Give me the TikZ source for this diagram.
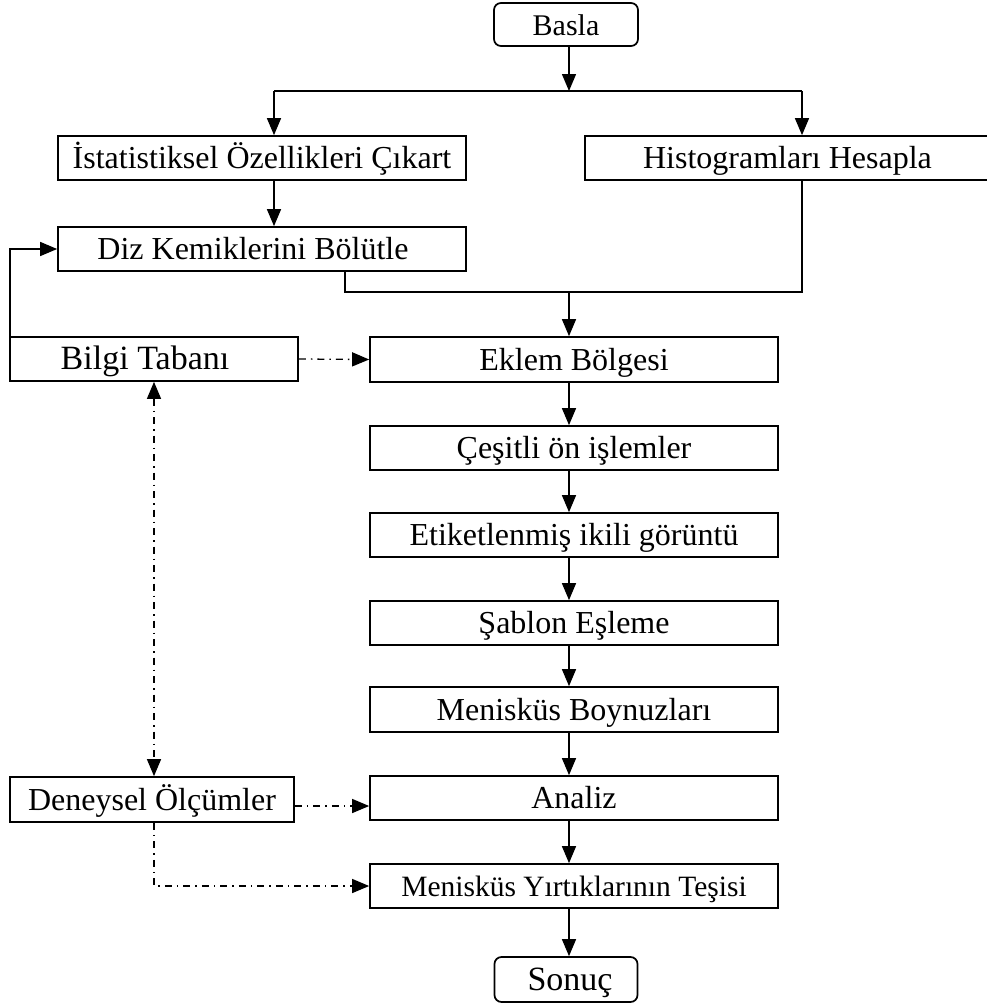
\documentclass[tikz,border=0pt]{standalone}
\usepackage{fontspec}
\setmainfont{Liberation Serif}
\usetikzlibrary{arrows.meta}
\begin{document}
\begin{tikzpicture}[x=1pt,y=-1pt,
  box/.style={draw, line width=1.7pt, minimum height=44, inner sep=0pt,
    text height=22pt, text depth=1pt, font=\fontsize{32}{36}\selectfont},
  term/.style={box, rounded corners=7pt},
  conn/.style={line width=1.4pt},
  tip/.tip={Triangle[length=17pt,width=14pt]},
  arr/.style={conn, -tip},
  dd/.style={line width=1.3pt, dash pattern=on 7pt off 5pt on 1.5pt off 5pt, -tip},
  ddb/.style={dd, tip-tip}
]
\useasboundingbox (0,0) rectangle (987,1004);

% nodes
\node[term, minimum width=144, minimum height=43, font=\fontsize{30}{34}\selectfont] (basla) at (566,24.5) {Basla};
\node[box, minimum width=408] (ist) at (262,158) {İstatistiksel Özellikleri Çıkart};
\node[box, minimum width=405] (hist) at (787.5,158) {Histogramları Hesapla};
\node[box, minimum width=408] (diz) at (262,249) {\hspace*{-18pt}Diz Kemiklerini Bölütle};
\node[box, minimum width=288, font=\fontsize{34}{38}\selectfont] (bilgi) at (154,359) {\hspace*{-18pt}Bilgi Tabanı};
\node[box, minimum width=408, minimum height=45] (eklem) at (574,359.5) {Eklem Bölgesi};
\node[box, minimum width=408] (cesit) at (574,448) {Çeşitli ön işlemler};
\node[box, minimum width=408] (etiket) at (574,535) {Etiketlenmiş ikili görüntü};
\node[box, minimum width=408] (sablon) at (574,623) {Şablon Eşleme};
\node[box, minimum width=408, minimum height=45] (menb) at (574,709.5) {Menisküs Boynuzları};
\node[box, minimum width=408] (analiz) at (574,798) {Analiz};
\node[box, minimum width=408, font=\fontsize{29.5}{34}\selectfont] (yirtik) at (574,886) {Menisküs Yırtıklarının Teşisi};
\node[term, minimum width=143, minimum height=45, font=\fontsize{34}{38}\selectfont] (sonuc) at (566,979.5) {\hspace*{8pt}Sonuç};
\node[box, minimum width=284, minimum height=45] (deney) at (152,799.5) {Deneysel Ölçümler};

% helper coordinates
\coordinate (col) at (569,0);
\coordinate (top) at (569,91);
\coordinate (bl) at (274,91);
\coordinate (br) at (802,91);
\coordinate (m1) at (345,292);
\coordinate (m2) at (802,292);
\coordinate (m3) at (569,292);

% top split
\draw[arr] (basla.south -| col) -- (top);
\draw[conn] (bl) -- (br);
\draw[arr] (bl) -- (bl |- ist.north);
\draw[arr] (br) -- (br |- hist.north);
\draw[arr] (bl |- ist.south) -- (bl |- diz.north);

% merge
\draw[conn] (m1 |- diz.south) -- (m1) -- (m2) -- (m2 |- hist.south);
\draw[arr] (m3) -- (m3 |- eklem.north);

% main column
\draw[arr] (eklem.south -| col) -- (cesit.north -| col);
\draw[arr] (cesit.south -| col) -- (etiket.north -| col);
\draw[arr] (etiket.south -| col) -- (sablon.north -| col);
\draw[arr] (sablon.south -| col) -- (menb.north -| col);
\draw[arr] (menb.south -| col) -- (analiz.north -| col);
\draw[arr] (analiz.south -| col) -- (yirtik.north -| col);
\draw[arr] (yirtik.south -| col) -- (sonuc.north -| col);

% feedback
\draw[arr] ([xshift=1pt]bilgi.north west) |- (diz.west);

% dash-dot links
\draw[dd] (bilgi.east) -- (eklem.west);
\draw[ddb] (bilgi.south) -- (deney.north -| bilgi.south);
\draw[dd] ([yshift=-6.5pt]deney.east) -- ([yshift=-6.5pt]deney.east -| analiz.west);
\draw[dd] (deney.south -| bilgi.south) |- (yirtik.west);
\end{tikzpicture}
\end{document}
